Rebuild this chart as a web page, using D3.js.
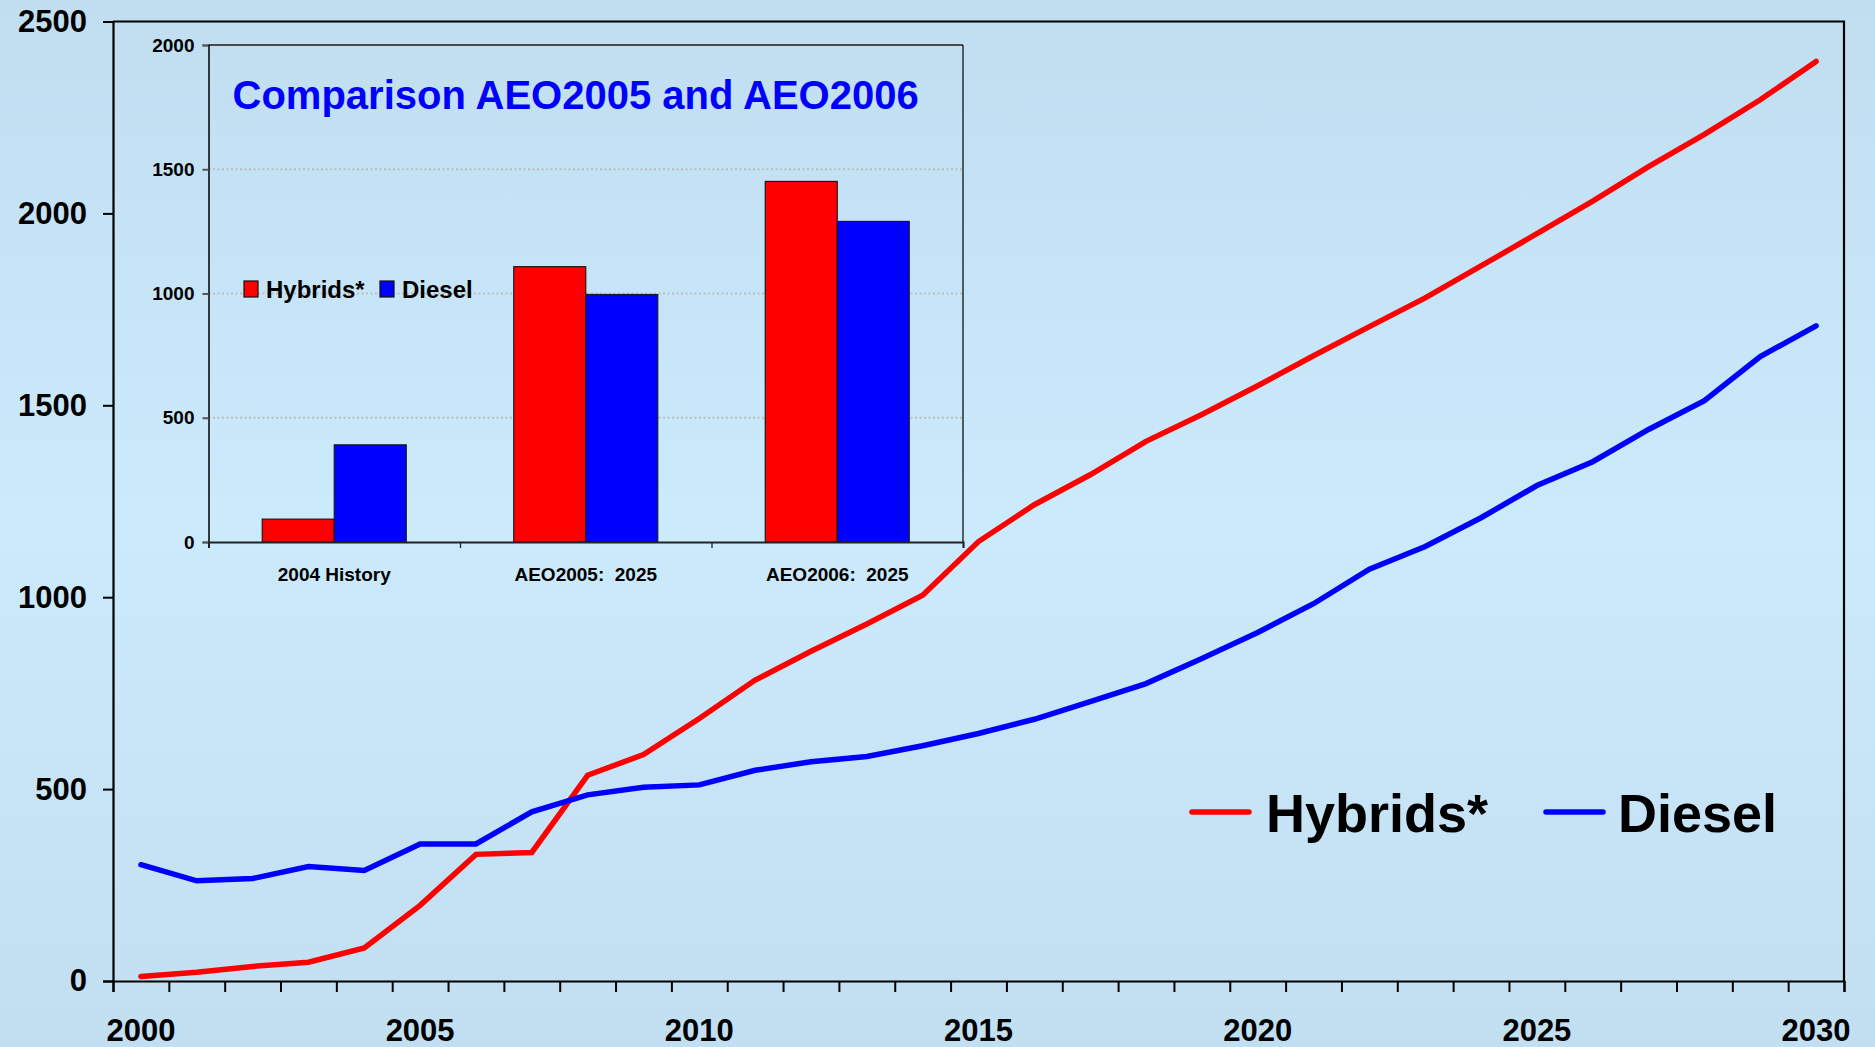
<!DOCTYPE html>
<html>
<head>
<meta charset="utf-8">
<script src="https://cdn.jsdelivr.net/npm/d3@7"></script>
<style>
  html, body { margin: 0; padding: 0; background: #C6E5F8; }
  svg { display: block; }
  text { font-family: "Liberation Sans", Arial, sans-serif; font-weight: bold; }
</style>
</head>
<body>
<svg id="chart" width="1875" height="1047"></svg>
<script>
// ---------- Data ----------
const years = [2000,2001,2002,2003,2004,2005,2006,2007,2008,2009,2010,
               2011,2012,2013,2014,2015,2016,2017,2018,2019,2020,
               2021,2022,2023,2024,2025,2026,2027,2028,2029,2030];
const hybrids = [12,23,38,49,86,197,330,335,536,590,684,
                 784,859,930,1005,1145,1241,1319,1406,1476,1551,
                 1629,1705,1780,1863,1947,2032,2122,2206,2296,2396];
const diesel = [303,261,267,298,288,357,357,441,485,505,511,
                549,571,585,613,645,682,728,775,840,908,
                983,1073,1132,1207,1291,1353,1437,1512,1627,1707];
const yTicks = [0,500,1000,1500,2000,2500];
const xLabelYears = [2000,2005,2010,2015,2020,2025,2030];
const seriesNames = ["Hybrids*","Diesel"];
const seriesColors = ["#FF0000","#0000FF"];

// inset
const insetTitle = "Comparison AEO2005 and AEO2006";
const insetCats = ["2004 History","AEO2005:  2025","AEO2006:  2025"];
const insetHybrids = [92,1108,1451];
const insetDiesel = [391,996,1290];
const insetTicks = [0,500,1000,1500,2000];

// ---------- Setup ----------
const svg = d3.select("#chart");
const W = 1875, H = 1047;

const defs = svg.append("defs");
const grad = defs.append("linearGradient").attr("id","bg").attr("x1",0).attr("y1",0).attr("x2",0).attr("y2",1);
grad.append("stop").attr("offset","0%").attr("stop-color","#C1DEF1");
grad.append("stop").attr("offset","50%").attr("stop-color","#CBEAFC");
grad.append("stop").attr("offset","100%").attr("stop-color","#C2DFF1");
svg.append("rect").attr("width",W).attr("height",H).attr("fill","url(#bg)");

// ---------- Main chart ----------
const L = 113, R = 1844, T = 21.5, B = 981;
const xBand = d3.scaleBand().domain(years).range([L, R]).padding(0);
const xEdge = d3.scaleLinear().domain([1999.5, 2030.5]).range([L, R]);
const y = d3.scaleLinear().domain([0, 2500]).range([B, T]);
const cx = d => xBand(d) + xBand.bandwidth() / 2;

// frame (top & right)
svg.append("path")
  .attr("d", `M${L},${T} H${R} V${B}`)
  .attr("fill","none").attr("stroke","#000").attr("stroke-width",2.2);

// y axis
const yAx = svg.append("g").attr("transform",`translate(${L},0)`)
  .call(d3.axisLeft(y).tickValues(yTicks).tickSize(10).tickPadding(16).tickFormat(d3.format("d")));
yAx.select(".domain").attr("stroke","#000").attr("stroke-width",2.2);
yAx.selectAll(".tick line").attr("stroke","#000").attr("stroke-width",2);
yAx.selectAll("text").attr("font-size",31).attr("fill","#000")
  .style("font-family","'Liberation Sans', Arial, sans-serif").style("font-weight","bold");

// x axis ticks at band edges
const edges = years.map(d => d - 0.5).concat([years[years.length-1] + 0.5]);
const xAx = svg.append("g").attr("transform",`translate(0,${B})`)
  .call(d3.axisBottom(xEdge).tickValues(edges).tickSize(11).tickFormat(""));
xAx.select(".domain").attr("stroke","#000").attr("stroke-width",2.2);
xAx.selectAll(".tick line").attr("stroke","#000").attr("stroke-width",2);

// x labels
const xLab = svg.append("g").attr("transform",`translate(0,${B})`)
  .call(d3.axisBottom(xBand).tickValues(xLabelYears).tickSize(0).tickPadding(38));
xLab.select(".domain").remove();
xLab.selectAll("text").attr("font-size",31).attr("fill","#000")
  .style("font-family","'Liberation Sans', Arial, sans-serif").style("font-weight","bold");

// lines
const line = d3.line().x((d,i) => cx(years[i])).y(d => y(d));
[hybrids, diesel].forEach((s, i) => {
  svg.append("path").datum(s)
    .attr("d", line)
    .attr("fill","none")
    .attr("stroke", seriesColors[i])
    .attr("stroke-width", 5.5)
    .attr("stroke-linecap","round")
    .attr("stroke-linejoin","miter");
});

// main legend
const legendItems = [
  {name: seriesNames[0], color: seriesColors[0], x1: 1192, x2: 1249, tx: 1266},
  {name: seriesNames[1], color: seriesColors[1], x1: 1546, x2: 1603, tx: 1618}
];
const lg = svg.append("g");
legendItems.forEach(it => {
  lg.append("line").attr("x1",it.x1).attr("x2",it.x2).attr("y1",812).attr("y2",812)
    .attr("stroke",it.color).attr("stroke-width",5.5).attr("stroke-linecap","round");
  lg.append("text").attr("x",it.tx).attr("y",832).attr("font-size",54).attr("fill","#000").text(it.name);
});

// ---------- Inset ----------
const iL = 208.5, iR = 963, iT = 45, iB = 542;
const xi = d3.scaleBand().domain(insetCats).range([iL, iR]).padding(0);
const xiEdge = d3.scaleLinear().domain([0, insetCats.length]).range([iL, iR]);
const yi = d3.scaleLinear().domain([0, 2000]).range([iB, iT]);
const groupW = 144;
const sub = d3.scaleBand().domain(seriesNames).range([0, groupW]).padding(0);

const ig = svg.append("g");

// gridlines
ig.selectAll("line.grid").data([500,1000,1500]).join("line")
  .attr("class","grid")
  .attr("x1", iL).attr("x2", iR)
  .attr("y1", d => yi(d)).attr("y2", d => yi(d))
  .attr("stroke","#BDBDBD").attr("stroke-width",2).attr("stroke-dasharray","2,2.5");

// top/right frame
ig.append("path").attr("d", `M${iL},${iT} H${iR}`).attr("stroke","#4a4a4a").attr("stroke-width",2.2).attr("fill","none");
ig.append("path").attr("d", `M${iR},${iT} V${iB}`).attr("stroke","#111").attr("stroke-width",1.3).attr("fill","none");

// bars
const barData = [];
insetCats.forEach((c, i) => {
  barData.push({cat: c, s: seriesNames[0], v: insetHybrids[i], color: seriesColors[0]});
  barData.push({cat: c, s: seriesNames[1], v: insetDiesel[i], color: seriesColors[1]});
});
ig.selectAll("rect.bar").data(barData).join("rect")
  .attr("class","bar")
  .attr("x", d => xi(d.cat) + (xi.bandwidth() - groupW) / 2 + sub(d.s))
  .attr("y", d => yi(d.v))
  .attr("width", sub.bandwidth())
  .attr("height", d => iB - yi(d.v))
  .attr("fill", d => d.color)
  .attr("stroke","#1a1a1a").attr("stroke-width",1.2);

// inset y axis
const iyAx = ig.append("g").attr("transform",`translate(${iL},0)`)
  .call(d3.axisLeft(yi).tickValues(insetTicks).tickSize(6).tickPadding(8).tickFormat(d3.format("d")));
iyAx.select(".domain").attr("stroke","#000").attr("stroke-width",1.5);
iyAx.selectAll(".tick line").attr("stroke","#555").attr("stroke-width",2);
iyAx.selectAll("text").attr("font-size",19).attr("fill","#000")
  .style("font-family","'Liberation Sans', Arial, sans-serif").style("font-weight","bold");

// inset x axis
const ixAx = ig.append("g").attr("transform",`translate(0,${iB})`)
  .call(d3.axisBottom(xiEdge).tickValues(d3.range(0, insetCats.length + 1)).tickSize(6).tickFormat(""));
ixAx.select(".domain").attr("stroke","#222").attr("stroke-width",2);
ixAx.selectAll(".tick line").attr("stroke","#222").attr("stroke-width",1.3);

const ixLab = ig.append("g").attr("transform",`translate(0,${iB})`)
  .call(d3.axisBottom(xi).tickSize(0).tickPadding(26));
ixLab.select(".domain").remove();
ixLab.selectAll("text").attr("font-size",19).attr("fill","#000")
  .style("font-family","'Liberation Sans', Arial, sans-serif").style("font-weight","bold")
  .style("white-space","pre");

// inset title
ig.append("text").attr("x",232.5).attr("y",109).attr("font-size",40).attr("fill","#0000FF").text(insetTitle);

// inset legend
const ilItems = [
  {name: seriesNames[0], color: seriesColors[0], sx: 244, tx: 266},
  {name: seriesNames[1], color: seriesColors[1], sx: 380, tx: 402}
];
ilItems.forEach(it => {
  ig.append("rect").attr("x",it.sx).attr("y",281).attr("width",14).attr("height",16)
    .attr("fill",it.color).attr("stroke","#111").attr("stroke-width",1.2);
  ig.append("text").attr("x",it.tx).attr("y",298).attr("font-size",24).attr("fill","#000").text(it.name);
});
</script>
</body>
</html>
